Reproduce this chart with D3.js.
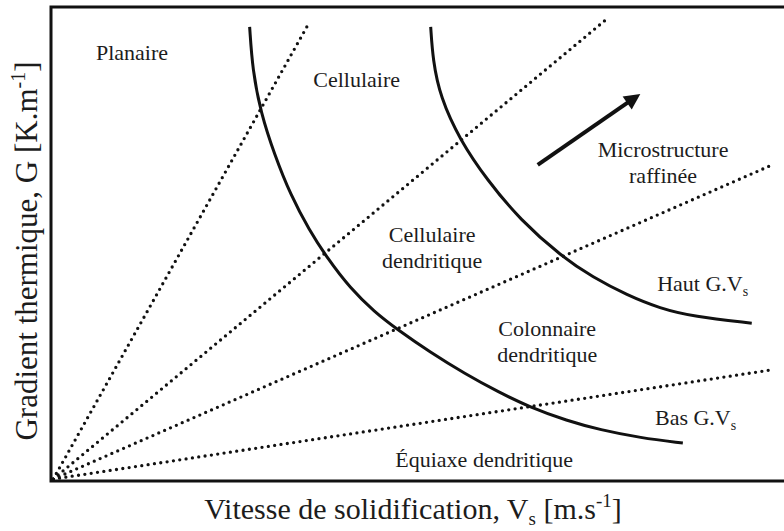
<!DOCTYPE html>
<html>
<head>
<meta charset="utf-8">
<script src="https://cdn.jsdelivr.net/npm/d3@7/dist/d3.min.js"></script>
<style>
  body { margin: 0; background: #fff; }
  svg { display: block; }
  text { font-family: "Liberation Serif", "Times New Roman", serif; fill: #1c1c1c; }
</style>
</head>
<body>
<div id="chart"></div>
<script>
var W = 784, H = 531,
    margin = {top: 7, right: 0, bottom: 50, left: 51},
    width = W - margin.left - margin.right,
    height = H - margin.top - margin.bottom;

// diagram coordinates, 0..100 on both axes (no ticks in the original)
var basGV_x = [27.1, 27.5, 28.6, 30.5, 32.7, 35.2, 37.7, 40.8, 44.1, 47.3, 51.7, 56.5, 61.0, 65.3, 70.4, 74.9, 80.4, 86.2];
var basGV_y = [95.8, 86.7, 77.8, 68.8, 60.3, 53.0, 47.0, 40.7, 35.7, 31.9, 27.2, 22.6, 18.8, 15.6, 12.7, 10.8, 9.1, 8.0];
var hautGV_x = [51.8, 52.1, 53.1, 55.8, 59.5, 64.0, 69.7, 73.9, 78.6, 83.1, 87.6, 95.6];
var hautGV_y = [95.8, 88.8, 81.0, 71.9, 63.5, 55.1, 47.3, 43.0, 39.2, 36.4, 34.7, 33.3];

// G/V ratio lines, from the origin
var ratioEnd_x = [34.9, 76.0, 98.4, 98.1];
var ratioEnd_y = [95.8, 97.7, 66.7, 23.4];
var ratioStart = [0.3, 0.4];

var arrowFrom = [66.4, 66.7], arrowTo = [80.6, 81.9];

var labelLines = [["Planaire"], ["Cellulaire"], ["Cellulaire", "dendritique"],
                  ["Microstructure", "raffinée"], ["Haut G.V"], ["Colonnaire", "dendritique"],
                  ["Bas G.V"], ["Équiaxe dendritique"]];
var labelSub = [null, null, null, null, "s", null, "s", null];
var labelX = [11.05, 41.7, 52.0, 83.5, 82.7, 67.7, 82.4, 59.1];
var labelY = [88.8, 83.1, 50.4, 68.4, 40.1, 30.6, 11.8, 3.0];
var labelAnchor = ["middle", "middle", "middle", "middle", "start", "middle", "start", "middle"];

var svg = d3.select("#chart").append("svg")
    .attr("width", W)
    .attr("height", H);

var g = svg.append("g")
    .attr("transform", "translate(" + margin.left + "," + margin.top + ")");

var x = d3.scaleLinear().domain([0, 100]).range([0, width]);
var y = d3.scaleLinear().domain([0, 100]).range([height, 0]);

// dotted lines
g.selectAll(".ratio")
    .data(ratioEnd_x)
  .enter().append("line")
    .attr("class", "ratio")
    .attr("x1", x(ratioStart[0]))
    .attr("y1", y(ratioStart[1]))
    .attr("x2", function(d) { return x(d); })
    .attr("y2", function(d, i) { return y(ratioEnd_y[i]); })
    .style("stroke", "#111")
    .style("stroke-width", 3.3)
    .style("stroke-linecap", "round")
    .style("stroke-dasharray", "0,6.4");

// G.V curves
var line = d3.line()
    .x(function(d) { return x(d[0]); })
    .y(function(d) { return y(d[1]); })
    .curve(d3.curveBasis);

[[basGV_x, basGV_y], [hautGV_x, hautGV_y]].forEach(function(c) {
  g.append("path")
    .datum(d3.zip(c[0], c[1]))
    .attr("d", line)
    .style("fill", "none")
    .style("stroke", "#111")
    .style("stroke-width", 3);
});

// arrow
svg.append("defs").append("marker")
    .attr("id", "head")
    .attr("viewBox", "0 0 10 10")
    .attr("refX", 2).attr("refY", 5)
    .attr("markerWidth", 4.6).attr("markerHeight", 4)
    .attr("markerUnits", "strokeWidth")
    .attr("orient", "auto")
  .append("path")
    .attr("d", "M0,0L10,5L0,10Z")
    .style("fill", "#111");

g.append("line")
    .attr("x1", x(arrowFrom[0])).attr("y1", y(arrowFrom[1]))
    .attr("x2", x(arrowTo[0]) - 12).attr("y2", y(arrowTo[1]) + 8.4)
    .style("stroke", "#111")
    .style("stroke-width", 4)
    .attr("marker-end", "url(#head)");

// frame (left, top, bottom)
g.append("path")
    .attr("d", "M" + width + "," + y(100) + "H" + x(0) + "V" + y(0) + "H" + width)
    .style("fill", "none")
    .style("stroke", "#111")
    .style("stroke-width", 3);

// region labels
labelLines.forEach(function(lines, i) {
  var t = g.append("text")
      .attr("x", x(labelX[i]))
      .attr("y", y(labelY[i]))
      .attr("text-anchor", labelAnchor[i])
      .style("font-size", "22px");
  lines.forEach(function(s, j) {
    t.append("tspan")
      .attr("x", x(labelX[i]))
      .attr("dy", j === 0 ? 0 : 26)
      .text(s);
  });
  if (labelSub[i]) {
    t.append("tspan")
      .attr("dy", 5)
      .style("font-size", "14px")
      .text(labelSub[i]);
  }
});

// axis titles
var xt = svg.append("text")
    .attr("x", 413)
    .attr("y", 519)
    .attr("text-anchor", "middle")
    .style("font-size", "30px");
xt.append("tspan").text("Vitesse de solidification, V");
xt.append("tspan").attr("dy", 6).style("font-size", "19px").text("s");
xt.append("tspan").attr("dy", -6).text(" [m.s");
xt.append("tspan").attr("dy", -12).style("font-size", "19px").text("-1");
xt.append("tspan").attr("dy", 12).text("]");

var yt = svg.append("text")
    .attr("transform", "translate(37,251) rotate(-90)")
    .attr("text-anchor", "middle")
    .style("font-size", "31px");
yt.append("tspan").text("Gradient thermique, G [K.m");
yt.append("tspan").attr("dy", -12).style("font-size", "20px").text("-1");
yt.append("tspan").attr("dy", 12).text("]");
</script>
</body>
</html>
